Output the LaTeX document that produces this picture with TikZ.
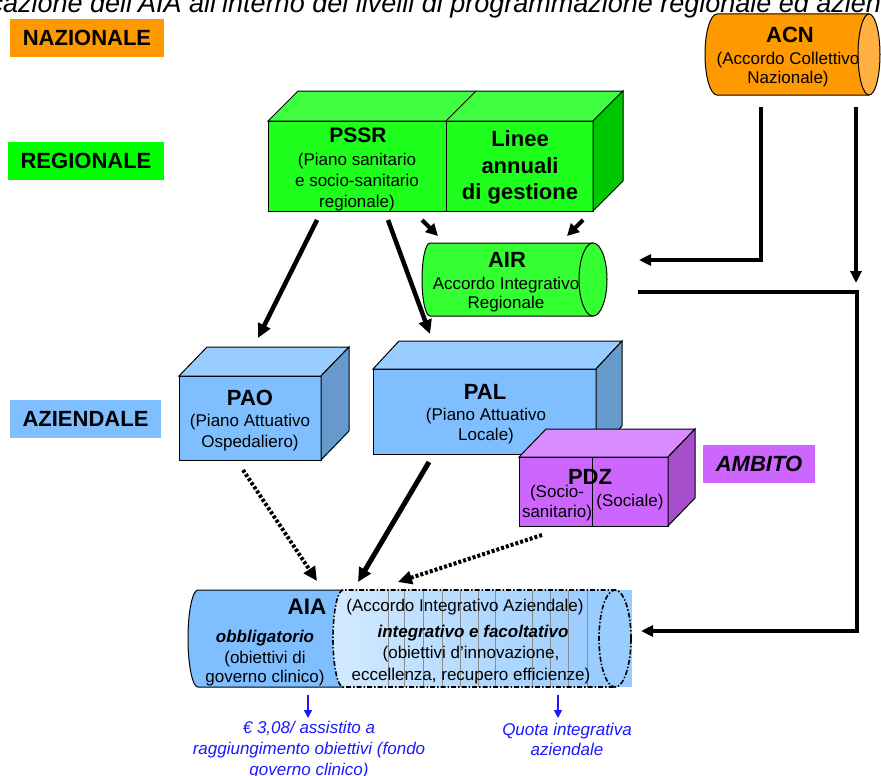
\documentclass[tikz,border=0pt]{standalone}
\usepackage{fontspec}
\setmainfont{Liberation Sans}
\usetikzlibrary{arrows.meta}
\definecolor{nazor}{HTML}{FF9900}
\definecolor{acnend}{HTML}{FFB040}
\definecolor{reggr}{HTML}{00FF00}
\definecolor{grfront}{HTML}{1EFF1E}
\definecolor{grtop}{HTML}{40FF40}
\definecolor{grside}{HTML}{00C800}
\definecolor{airgr}{HTML}{33FF33}
\definecolor{blfront}{HTML}{80BFFF}
\definecolor{bltop}{HTML}{99CCFF}
\definecolor{blside}{HTML}{6699CC}
\definecolor{pufront}{HTML}{CC66FF}
\definecolor{putop}{HTML}{D98CFF}
\definecolor{puside}{HTML}{A64DCC}
\definecolor{aialight}{HTML}{D2EAFF}
\definecolor{aiamid}{HTML}{99CCFF}
\definecolor{bluetxt}{HTML}{1A1AFF}
% x1 y1 x2 y2 dx dy front top side
\newcommand{\mycuboid}[9]{%
  \path[fill=#7, draw=black, line width=1] (#1,#2) rectangle (#3,#4);
  \path[fill=#8, draw=black, line width=1] (#1,#2) -- (#1+#5,#2-#6) -- (#3+#5,#2-#6) -- (#3,#2) -- cycle;
  \path[fill=#9, draw=black, line width=1] (#3,#2) -- (#3+#5,#2-#6) -- (#3+#5,#4-#6) -- (#3,#4) -- cycle;
}
\tikzset{
  lvl/.style={inner sep=0, minimum height=38, font=\fontsize{22}{26}\selectfont\bfseries},
  head/.style={inner sep=0, font=\fontsize{22}{26}\selectfont\bfseries},
  body/.style={inner sep=0, align=center, font=\fontsize{17}{21}\selectfont},
  bigarr/.style={line width=4.5, -{Triangle[length=14pt,width=13pt]}},
  smallarr/.style={line width=4, -{Triangle[length=12pt,width=12pt]}},
  acnline/.style={line width=3.5},
  acnarr/.style={line width=3.5, -{Triangle[length=12pt,width=11pt]}},
  dotarr/.style={line width=4, dash pattern=on 3pt off 2pt, -{Triangle[length=14pt,width=13pt]}},
  bluearr/.style={line width=1.6, draw=bluetxt, -{Triangle[length=8pt,width=8pt]}},
  bluetext/.style={inner sep=0, align=center, text=bluetxt, font=\fontsize{17}{21}\selectfont\itshape},
}
\begin{document}
\begin{tikzpicture}[x=1pt,y=-1pt]
\useasboundingbox (0,0) rectangle (881,776);
\fill[white] (0,0) rectangle (881,776);

% title (cut by the frame)
\node[anchor=base west, inner sep=0, font=\fontsize{27}{31}\selectfont\itshape] (title) at (3,13)
  {\llap{Colloc}azione dell’AIA all’interno dei livelli di programmazione regionale ed aziendale};

% level labels
\node[lvl, fill=nazor, minimum width=154] (naz) at (87,38) {NAZIONALE};
\node[lvl, fill=reggr, minimum width=156] (reg) at (86,161) {REGIONALE};
\node[lvl, fill=blfront, minimum width=151] (azi) at (85.5,419) {AZIENDALE};
\node[lvl, fill=pufront, minimum width=112, font=\fontsize{22}{26}\selectfont\bfseries\itshape] (amb) at (759,464) {AMBITO};

% ACN cylinder
\path[fill=nazor] (717,14) arc[start angle=90, end angle=270, x radius=12pt, y radius=40.5pt] -- (869,95) -- (869,14) -- cycle;
\draw[line width=1] (869,14) -- (717,14) arc[start angle=90, end angle=270, x radius=12pt, y radius=40.5pt] -- (869,95);
\path[fill=acnend, draw=black, line width=1] (869,54.5) ellipse[x radius=11pt, y radius=40.5pt];
\node[head] (acn) at (790,35) {ACN};
\node[body, font=\fontsize{17}{19}\selectfont] (acnsub) at (788,69.5) {(Accordo Collettivo\\Nazionale)};

% PSSR / Linee box
\mycuboid{268}{121}{593}{211}{30}{30}{grfront}{grtop}{grside}
\draw[line width=1] (446,121) -- (446,211);
\draw[line width=1] (446,121) -- (476,91);
\node[head, font=\fontsize{21}{25}\selectfont\bfseries] (pssr) at (358,135) {PSSR};
\node[body] (pssrsub) at (357,182) {(Piano sanitario\\e socio-sanitario\\regionale)};
\node[head, align=center, font=\fontsize{22}{26.5}\selectfont\bfseries] (linee) at (520,167.5) {Linee\\annuali\\di gestione};

% AIR cylinder
\path[fill=airgr] (430,243) arc[start angle=90, end angle=270, x radius=8pt, y radius=36.5pt] -- (593,316) -- (593,243) -- cycle;
\draw[line width=1] (593,243) -- (430,243) arc[start angle=90, end angle=270, x radius=8pt, y radius=36.5pt] -- (593,316);
\path[fill=airgr, draw=black, line width=1] (593,279.5) ellipse[x radius=14pt, y radius=36.5pt];
\node[head] (air) at (507,260) {AIR};
\node[body, font=\fontsize{17}{19}\selectfont] (airsub) at (506,295) {Accordo Integrativo\\Regionale};

% PAO box
\mycuboid{179}{376}{321}{460}{28}{29}{blfront}{bltop}{blside}
\node[head] (pao) at (250,398) {PAO};
\node[body] (paosub) at (250,432.5) {(Piano Attuativo\\Ospedaliero)};

% PAL box
\mycuboid{373}{369}{596}{454}{26}{28}{blfront}{bltop}{blside}
\node[head] (pal) at (485,392) {PAL};
\node[body, font=\fontsize{17}{20}\selectfont] (palsub) at (486,426) {(Piano Attuativo\\Locale)};

% PDZ box
\mycuboid{519}{457}{668}{526}{27}{28}{pufront}{putop}{puside}
\draw[line width=1] (592,457) -- (592,526);
\node[head] (pdz) at (590,477) {PDZ};
\node[body, font=\fontsize{17}{20}\selectfont] (pdzA) at (557,503) {(Socio-\\sanitario)};
\node[body] (pdzB) at (630,502) {(Sociale)};

% AIA cylinder
\fill[aiamid] (340,590) rectangle (632,687);
\fill[blfront] (198,590) arc[start angle=90, end angle=270, x radius=10pt, y radius=48.5pt] -- (345,687) -- (345,590) -- cycle;
\shade[left color=aialight, right color=aiamid]
  (343,590) arc[start angle=90, end angle=270, x radius=10pt, y radius=48.5pt] -- (600,687) -- (600,590) -- cycle;
\foreach \xx in {388,404,423,442,460,478,495,532,550,568,587}
  \draw[line width=0.6, draw=black!45] (\xx,590) -- (\xx,687);
\draw[line width=1] (343,590) -- (198,590) arc[start angle=90, end angle=270, x radius=10pt, y radius=48.5pt] -- (343,687);
\draw[line width=1.6, dash pattern=on 5pt off 2pt on 1.5pt off 2pt]
  (616,590) -- (343,590) arc[start angle=90, end angle=270, x radius=10pt, y radius=48.5pt] -- (616,687);
\draw[line width=1.6, dash pattern=on 5pt off 2pt on 1.5pt off 2pt] (615,638.5) ellipse[x radius=16pt, y radius=48.5pt];
\node[head, font=\fontsize{22.5}{26}\selectfont\bfseries] (aia) at (307,607) {AIA};
\node[body, font=\fontsize{17}{21}\selectfont\bfseries\itshape] (obb) at (265,638) {obbligatorio};
\node[body, font=\fontsize{17}{19.5}\selectfont] (obbsub) at (265,668.5) {(obiettivi di\\governo clinico)};
\node[body] (aiafull) at (465,607) {(Accordo Integrativo Aziendale)};
\node[body, font=\fontsize{17}{21}\selectfont\bfseries\itshape] (integr) at (473,633) {integrativo e facoltativo};
\node[body, font=\fontsize{17}{22}\selectfont] (integrsub) at (471,665) {(obiettivi d’innovazione,\\eccellenza, recupero efficienze)};

% blue notes
\node[bluetext] (fondo) at (309,750) {€ 3,08/ assistito a\\raggiungimento obiettivi (fondo\\governo clinico)};
\node[bluetext, font=\fontsize{17}{20}\selectfont\itshape] (quota) at (567,739) {Quota integrativa\\aziendale};

% connector end points
\coordinate (pssrA) at (317,220); \coordinate (paoT) at (258,338);
\coordinate (pssrB) at (388,220); \coordinate (palT) at (430,334);
\coordinate (pssrC) at (422,220); \coordinate (airL) at (438,236);
\coordinate (lineeA) at (583,220); \coordinate (airRt) at (567,236);
\coordinate (acnA) at (761,107); \coordinate (airE) at (639,260);
\coordinate (acnB) at (856,107); \coordinate (acnBt) at (856,283);
\coordinate (airOut) at (638,292); \coordinate (rcorner) at (857,631); \coordinate (aiaE) at (641,631);
\coordinate (paoB) at (243,470); \coordinate (aiaA) at (317,581);
\coordinate (palB) at (429,462); \coordinate (aiaB) at (358,582);
\coordinate (pdzOut) at (542,535); \coordinate (aiaC) at (398,582);
\coordinate (aiaD) at (308,695); \coordinate (fondoT) at (308,718);
\coordinate (aiaF) at (558,695); \coordinate (quotaT) at (558,718);

% connectors
\draw[bigarr] (pssrA) -- (paoT);
\draw[bigarr] (pssrB) -- (palT);
\draw[smallarr] (pssrC) -- (airL);
\draw[smallarr] (lineeA) -- (airRt);
\draw[acnarr] (acnA) |- (airE);
\draw[acnarr] (acnB) -- (acnBt);
\draw[acnarr] (airOut) -| (rcorner) -- (aiaE);
\draw[dotarr] (paoB) -- (aiaA);
\draw[bigarr, line width=5] (palB) -- (aiaB);
\draw[dotarr] (pdzOut) -- (aiaC);
\draw[bluearr] (aiaD) -- (fondoT);
\draw[bluearr] (aiaF) -- (quotaT);
\end{tikzpicture}
\end{document}
